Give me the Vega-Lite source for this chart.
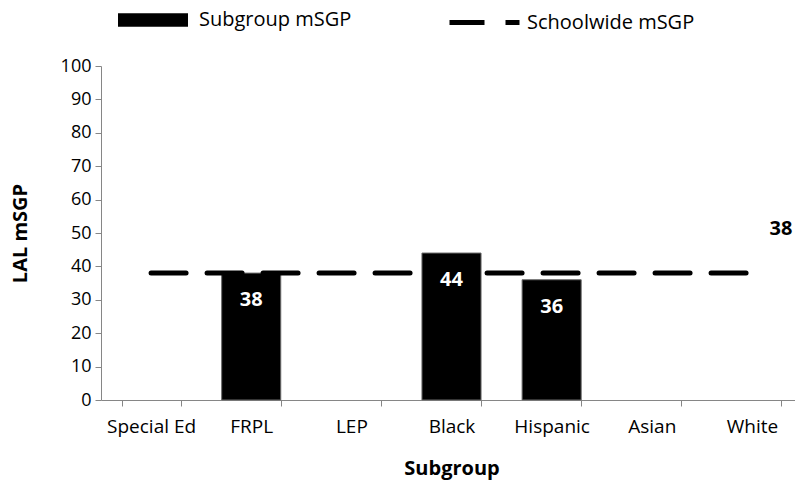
{
  "$schema": "https://vega.github.io/schema/vega-lite/v6.json",
  "autosize": "none",
  "width": 694,
  "height": 334,
  "padding": {"left": 101, "top": 66, "right": 0, "bottom": 81},
  "background": "white",
  "config": {
    "font": "Open Sans",
    "view": {"stroke": null},
    "axis": {"grid": false, "domainColor": "#868686", "tickColor": "#868686", "labelColor": "black", "titleColor": "black", "labelFontSize": 19, "titleFontSize": 20, "titleFontWeight": "bold"},
    "legend": {"padding": 0, "labelFontSize": 20, "labelColor": "black", "title": null, "labelLimit": 400}
  },
  "data": {
    "values": [
      {"subgroup": "Special Ed", "value": null, "schoolwide": 38},
      {"subgroup": "FRPL", "value": 38, "schoolwide": 38},
      {"subgroup": "LEP", "value": null, "schoolwide": 38},
      {"subgroup": "Black", "value": 44, "schoolwide": 38},
      {"subgroup": "Hispanic", "value": 36, "schoolwide": 38},
      {"subgroup": "Asian", "value": null, "schoolwide": 38},
      {"subgroup": "White", "value": null, "schoolwide": 38}
    ]
  },
  "encoding": {
    "x": {
      "field": "subgroup", "type": "nominal",
      "scale": {"domain": ["Special Ed", "FRPL", "LEP", "Black", "Hispanic", "Asian", "White"], "range": [0, 701], "paddingInner": 0.41, "paddingOuter": 0.205},
      "axis": {"title": "Subgroup", "labelAngle": 0, "tickBand": "extent", "tickSize": 6, "labelPadding": 11, "titlePadding": 22}
    },
    "y": {
      "field": "value", "type": "quantitative",
      "scale": {"domain": [0, 100], "nice": false},
      "axis": {"title": "LAL mSGP", "tickCount": 10, "labelOverlap": false, "labelFontSize": 18, "tickSize": 6, "labelPadding": 4, "titlePadding": 30, "grid": false}
    }
  },
  "layer": [
    {
      "transform": [{"filter": "isValid(datum.value)"}],
      "mark": {"type": "bar", "stroke": "#6a6a6a", "strokeWidth": 1},
      "encoding": {
        "fill": {
          "datum": "Subgroup mSGP", "type": "nominal",
          "scale": {"range": ["black"]},
          "legend": {
            "orient": "none", "legendX": 17, "legendY": -81,
            "symbolType": "M-1,-0.19H1V0.19H-1Z", "symbolSize": 4900, "symbolStrokeWidth": 0, "labelOffset": 11
          }
        }
      }
    },
    {
      "mark": {"type": "line", "strokeWidth": 5, "strokeCap": "round", "color": "black"},
      "encoding": {
        "y": {"field": "schoolwide", "type": "quantitative"},
        "strokeDash": {
          "datum": "Schoolwide mSGP", "type": "nominal",
          "scale": {"range": [[35, 21]]},
          "legend": {
            "orient": "none", "legendX": 346, "legendY": -81,
            "symbolType": "stroke", "symbolSize": 4900, "symbolStrokeWidth": 5, "symbolStrokeColor": "black", "labelOffset": 5
          }
        }
      }
    },
    {
      "transform": [{"filter": "isValid(datum.value)"}],
      "mark": {"type": "text", "color": "white", "fontWeight": "bold", "fontSize": 20, "baseline": "middle", "dy": 27},
      "encoding": {
        "text": {"field": "value", "type": "quantitative"}
      }
    },
    {
      "transform": [{"filter": "datum.subgroup === 'White'"}],
      "mark": {"type": "text", "color": "black", "fontWeight": "bold", "fontSize": 20, "baseline": "middle", "align": "center", "dx": 29, "dy": -44},
      "encoding": {
        "y": {"field": "schoolwide", "type": "quantitative"},
        "text": {"field": "schoolwide", "type": "quantitative"}
      }
    }
  ]
}
